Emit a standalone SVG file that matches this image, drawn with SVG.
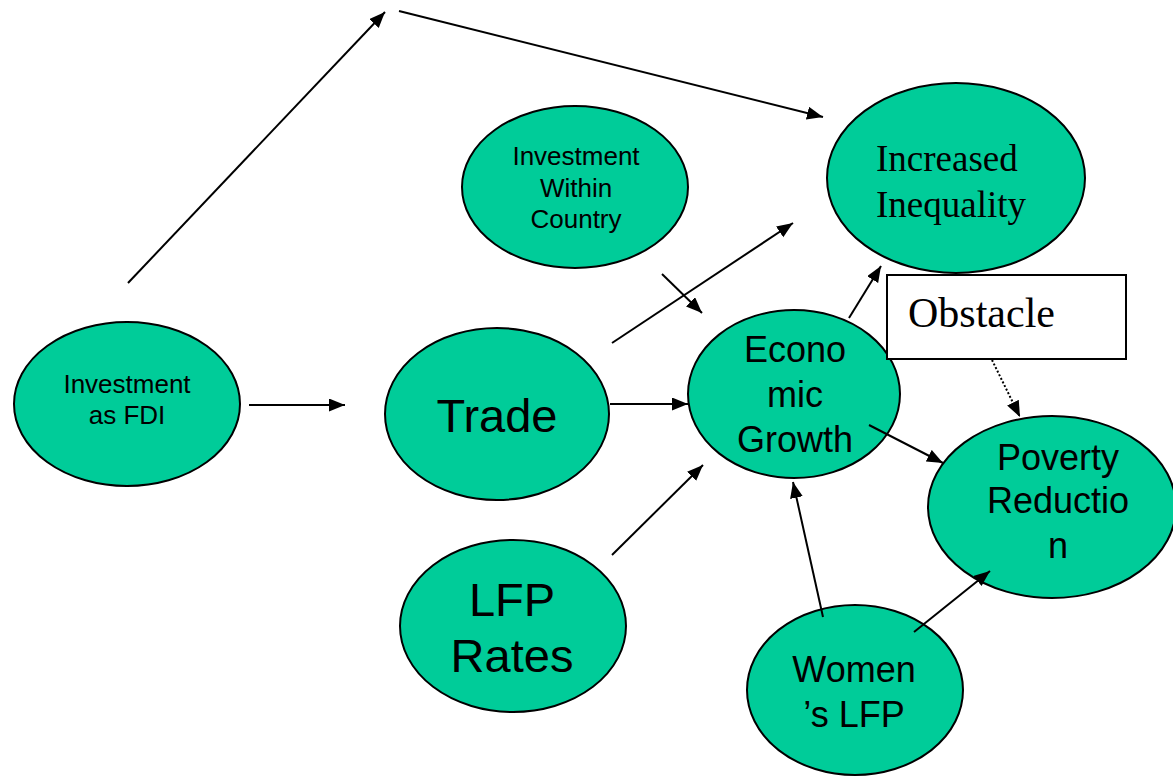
<svg xmlns="http://www.w3.org/2000/svg" width="1173" height="777" viewBox="0 0 1173 777">
<defs>
<marker id="ah" markerUnits="userSpaceOnUse" markerWidth="17" markerHeight="14" refX="16" refY="6.5" orient="auto">
<path d="M0,0 L16,6.5 L0,13 z" fill="#000"/>
</marker>
<style>
.n{fill:#00CC99;stroke:#000;stroke-width:2}
.s{font-family:"Liberation Sans",Arial,sans-serif;fill:#000;text-anchor:middle}
.t{font-family:"Liberation Serif","Times New Roman",serif;fill:#000}
.c{stroke:#000;stroke-width:2;fill:none;marker-end:url(#ah)}
</style>
</defs>
<rect width="1173" height="777" fill="#fff"/>
<g id="fdi">
<ellipse class="n" cx="127" cy="404" rx="113" ry="82"/>
<text class="s" x="127" y="393" font-size="26">Investment</text>
<text class="s" x="127" y="424" font-size="26">as FDI</text>
</g>
<g id="within">
<ellipse class="n" cx="575" cy="187" rx="113" ry="81"/>
<text class="s" x="576" y="165" font-size="26">Investment</text>
<text class="s" x="576" y="197" font-size="26">Within</text>
<text class="s" x="576" y="228" font-size="26">Country</text>
</g>
<g id="inequality">
<ellipse class="n" cx="956" cy="178" rx="129" ry="95"/>
<text class="t" x="876" y="171" font-size="37">Increased</text>
<text class="t" x="876" y="217" font-size="37">Inequality</text>
</g>
<g id="trade">
<ellipse class="n" cx="497" cy="414" rx="112" ry="86"/>
<text class="s" x="497" y="432" font-size="47">Trade</text>
</g>
<g id="growth">
<ellipse class="n" cx="794" cy="394" rx="106" ry="84"/>
<text class="s" x="795" y="362" font-size="36">Econo</text>
<text class="s" x="795" y="407" font-size="36">mic</text>
<text class="s" x="795" y="452" font-size="36">Growth</text>
</g>
<g id="obstacle">
<rect x="887" y="275" width="239" height="84" fill="#fff" stroke="#000" stroke-width="2"/>
<text class="t" x="908" y="327" font-size="42">Obstacle</text>
</g>
<g id="poverty">
<ellipse class="n" cx="1052" cy="507" rx="124" ry="91"/>
<text class="s" x="1058" y="470" font-size="36">Poverty</text>
<text class="s" x="1058" y="513" font-size="36">Reductio</text>
<text class="s" x="1058" y="558" font-size="36">n</text>
</g>
<g id="lfp">
<ellipse class="n" cx="513" cy="626" rx="113" ry="86"/>
<text class="s" x="512" y="616" font-size="47">LFP</text>
<text class="s" x="512" y="672" font-size="47">Rates</text>
</g>
<g id="women">
<ellipse class="n" cx="855" cy="690" rx="108" ry="85"/>
<text class="s" x="854" y="682" font-size="36">Women</text>
<text class="s" x="854" y="727" font-size="36">’s LFP</text>
</g>
<g id="connectors">
<line class="c" x1="128" y1="283" x2="385" y2="12"/>
<line class="c" x1="399" y1="11" x2="823" y2="117"/>
<line class="c" x1="249" y1="405" x2="345" y2="405"/>
<line class="c" x1="610" y1="404" x2="688" y2="404"/>
<line class="c" x1="612" y1="343" x2="793" y2="223"/>
<line class="c" x1="662" y1="274" x2="702" y2="313"/>
<line class="c" x1="612" y1="555" x2="703" y2="465"/>
<line class="c" x1="849" y1="318" x2="881" y2="266"/>
<line class="c" x1="869" y1="425" x2="943" y2="463"/>
<line class="c" x1="823" y1="617" x2="793" y2="482"/>
<line class="c" x1="914" y1="632" x2="990" y2="571"/>
<line class="c" x1="992" y1="360" x2="1020" y2="417" stroke-dasharray="2,2"/>
</g>
</svg>
